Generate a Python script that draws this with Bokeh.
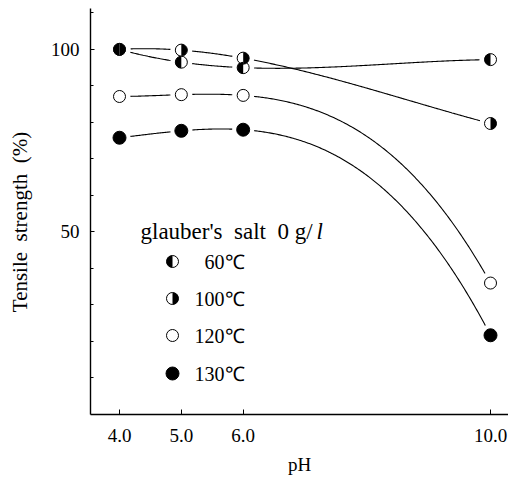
import numpy as np
from math import pi
from bokeh.plotting import figure
from bokeh.models import FixedTicker, Label, Range1d
from bokeh.embed import file_html
from bokeh.resources import INLINE

# ---------------- data ----------------
ph = [4.0, 5.0, 6.0, 10.0]
s60 = [100.0, 96.5, 95.0, 97.2]
s100 = [100.0, 99.8, 97.6, 79.7]
s120 = [87.1, 87.6, 87.4, 36.0]
s130 = [75.8, 77.7, 78.0, 21.7]
x_ticks = [4.0, 5.0, 6.0, 10.0]
x_labels = ["4.0", "5.0", "6.0", "10.0"]
y_ticks = [50, 100]
y_minor = [10, 20, 30, 40, 60, 70, 80, 90, 110]
legend_title = "glauber's\u00a0\u00a0salt\u00a0\u00a00\u00a0g/"
legend_unit = "l"
legend_names = ["60℃", "100℃", "120℃", "130℃"]
x_title = "pH"
y_title = "Tensile\u00a0\u00a0strength\u00a0\u00a0(%)" + "\u00a0" * 4

# ---------------- layout ----------------
W, H = 508, 478
FL, FT = 90, 8
FB = H - 414
FW = W - FL
FH = H - FT - FB
X0, X1 = 3.531, 10.291
Y0, Y1 = 0.0, 111.2
SERIF = "Liberation Serif"


def dx(px):
    return X0 + (px - FL) / FW * (X1 - X0)


def dy(py):
    return Y0 + (FT + FH - py) / FH * (Y1 - Y0)


p = figure(width=W, height=H, x_range=Range1d(X0, X1), y_range=Range1d(Y0, Y1),
           output_backend="svg", toolbar_location=None,
           min_border_left=FL, min_border_right=0, min_border_top=FT, min_border_bottom=FB)
p.outline_line_color = None
p.grid.visible = False
p.background_fill_color = "white"

for ax in (p.xaxis[0], p.yaxis[0]):
    ax.axis_line_color = "black"
    ax.axis_line_width = 1.4
    ax.major_tick_line_color = "black"
    ax.minor_tick_line_color = "black"
    ax.major_label_text_font = SERIF
    ax.major_label_text_font_size = "19px"
    ax.major_label_text_color = "black"
    ax.major_tick_out = 0
    ax.axis_label_text_font = SERIF
    ax.axis_label_text_font_style = "normal"
    ax.axis_label_text_color = "black"

p.xaxis.ticker = FixedTicker(ticks=x_ticks)
p.xaxis.major_label_overrides = {t: l for t, l in zip(x_ticks, x_labels)}
p.xaxis.major_tick_in = 5
p.xaxis.minor_tick_line_color = None
p.xaxis.major_label_standoff = 14
p.xaxis.axis_label = x_title
p.xaxis.axis_label_text_font_size = "19px"
p.xaxis.axis_label_standoff = 9

p.yaxis.ticker = FixedTicker(ticks=y_ticks, minor_ticks=y_minor)
p.yaxis.major_tick_in = 4
p.yaxis.minor_tick_in = 3
p.yaxis.minor_tick_out = 0
p.yaxis.major_label_standoff = 11
p.yaxis.axis_label = y_title
p.yaxis.axis_label_text_font_size = "21px"
p.yaxis.axis_label_standoff = 16

# ---------------- curves ----------------
series = [s60, s100, s120, s130]
xs = np.linspace(ph[0], ph[-1], 300)
for s in series:
    c = np.polyfit(ph, s, 3)
    p.line(xs, np.polyval(c, xs), line_color="black", line_width=1.1)

# halos to create gaps between curves and markers
for s in series:
    p.scatter(ph, s, size=22, marker="circle", fill_color="white", line_color=None)

# marker outlines
MS = 12
for s in (s60, s100, s120):
    p.scatter(ph, s, size=MS, marker="circle", fill_color="white",
              line_color="black", line_width=1)
p.scatter(ph, s130, size=MS + 1, marker="circle", fill_color="black", line_color="black")
# half fills
p.wedge(ph, s60, radius=MS / 2, radius_units="screen", start_angle=pi / 2,
        end_angle=3 * pi / 2, fill_color="black", line_color=None)
p.wedge(ph, s100, radius=MS / 2, radius_units="screen", start_angle=-pi / 2,
        end_angle=pi / 2, fill_color="black", line_color=None)

# ---------------- legend ----------------
leg_px = 172
leg_py = [261, 298, 335, 373]
lx = [dx(leg_px)] * 4
ly = [dy(v) for v in leg_py]
p.scatter(lx[:3], ly[:3], size=MS, marker="circle", fill_color="white",
          line_color="black", line_width=1)
p.scatter([lx[3]], [ly[3]], size=MS + 1, marker="circle", fill_color="black", line_color="black")
p.wedge([lx[0]], [ly[0]], radius=MS / 2, radius_units="screen", start_angle=pi / 2,
        end_angle=3 * pi / 2, fill_color="black", line_color=None)
p.wedge([lx[1]], [ly[1]], radius=MS / 2, radius_units="screen", start_angle=-pi / 2,
        end_angle=pi / 2, fill_color="black", line_color=None)
for name, yy in zip(legend_names, ly):
    p.add_layout(Label(x=dx(244), y=yy, text=name, text_align="right",
                       text_baseline="middle", text_font=SERIF,
                       text_font_size="20px", text_color="black"))

p.add_layout(Label(x=dx(140), y=dy(231), text=legend_title, text_align="left",
                   text_baseline="alphabetic", text_font=SERIF,
                   text_font_size="23px", text_color="black"))
p.add_layout(Label(x=dx(316), y=dy(231), text=legend_unit, text_align="left",
                   text_baseline="alphabetic", text_font=SERIF, text_font_style="italic",
                   text_font_size="23px", text_color="black"))

open("out.html", "w").write(file_html(p, INLINE))
